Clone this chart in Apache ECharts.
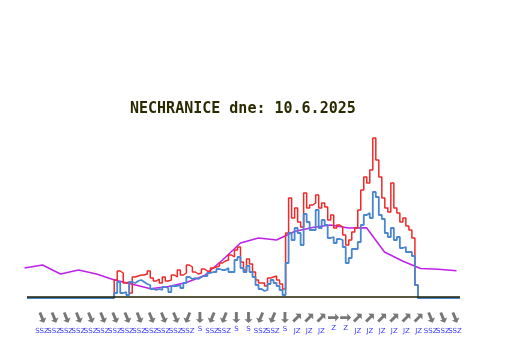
<!DOCTYPE html>
<html><head><meta charset="utf-8">
<script src="https://cdn.jsdelivr.net/npm/echarts@6/dist/echarts.min.js"></script>
<style>html,body{margin:0;padding:0;background:#fff}#c{width:532px;height:360px}</style>
</head><body><div id="c"></div>
<script>
// 10-minute samples (index 0..144), gusts (red) and mean speed (blue)
const gust = [0,0,0,0,0,0,0,0,0,0,0,0,0,0,0,0,0,0,0,0,0,0,0,0,0,0,0,0,0,
 1.8,2.7,2.5,1.5,1.6,0.5,2.1,2.2,2.3,2.3,2.4,2.7,2.0,1.7,1.9,1.5,2.1,1.7,1.8,2.3,2.1,2.8,2.3,2.5,
 3.3,3.1,2.6,2.4,2.5,2.9,2.7,2.6,3.0,3.1,3.2,3.5,3.7,3.8,4.3,4.1,4.8,5.1,3.6,2.8,3.9,3.4,2.6,1.8,1.5,
 1.5,1.2,2.0,2.1,2.2,1.8,1.4,0.9,
 6.5,10.0,8.0,9.0,7.6,7.1,10.5,9.0,9.3,9.5,10.3,9.0,9.5,9.1,7.8,8.3,7.0,7.3,7.1,6.3,5.3,5.8,6.6,7.0,8.8,
 10.8,12.1,11.5,12.8,16.0,13.8,12.1,10.0,9.0,8.6,11.5,9.0,8.5,7.6,8.0,7.2,6.8,6.0,1.3,
 0,0,0,0,0,0,0,0,0,0,0,0,0,0,0];
const speed = [0,0,0,0,0,0,0,0,0,0,0,0,0,0,0,0,0,0,0,0,0,0,0,0,0,0,0,0,0,
 0.5,1.6,0.5,0.6,0.3,1.6,1.5,1.7,1.8,1.6,1.4,1.3,0.9,0.8,0.9,0.8,1.1,1.0,0.6,1.2,1.2,1.3,1.0,1.5,
 2.1,1.9,2.0,1.9,2.1,2.2,2.2,2.5,2.6,2.6,2.9,2.8,2.8,3.0,2.6,2.6,3.8,4.1,3.0,2.6,3.2,2.6,2.1,1.3,0.9,
 0.7,0.8,1.4,1.8,1.5,1.2,0.8,0.3,
 3.5,6.5,5.8,7.0,6.5,5.3,8.4,7.6,6.8,6.8,8.8,7.0,7.8,7.3,6.0,6.1,5.5,5.9,5.8,5.1,3.5,4.0,4.9,4.9,5.6,
 7.3,8.3,8.5,8.0,10.6,10.1,8.3,7.9,6.5,6.1,7.0,5.8,6.1,5.0,5.1,4.6,4.6,4.2,1.3,
 0,0,0,0,0,0,0,0,0,0,0,0,0,0,0];
// hourly series (magenta), hours 0..24
const hourly = [3.0,3.3,2.4,2.8,2.4,1.8,1.37,0.93,1.15,1.55,2.25,3.8,5.5,6.0,5.8,6.65,7.05,7.3,7.0,7.03,4.6,3.7,2.95,2.87,2.73];
// wind marks: label text and arrow heading (degrees, clockwise from up)
const windLbl = ['SSZ','SSZ','SSZ','SSZ','SSZ','SSZ','SSZ','SSZ','SSZ','SSZ','SSZ','SSZ','SSZ',
 'S','SSZ','SSZ','S','S','SSZ','SSZ','S','JZ','JZ','JZ','Z','Z','JZ','JZ','JZ','JZ','JZ','JZ','SSZ','SSZ','SSZ'];
const windHdg = [157.5,157.5,157.5,157.5,157.5,157.5,157.5,157.5,157.5,157.5,157.5,157.5,202.5,
 180,202.5,202.5,180,180,202.5,202.5,180,45,45,45,90,90,45,45,45,45,45,45,157.5,157.5,157.5];
const title = 'NECHRANICE dne: 10.6.2025';

const arrowPath = 'path://M0,-10 L5,-3 L1.8,-3 L1.8,10 L-1.8,10 L-1.8,-3 L-5,-3 Z';

const chart = echarts.init(document.getElementById('c'), null, {renderer:'canvas'});
const idx = gust.map((_, i) => i);
chart.setOption({
  animation:false,
  backgroundColor:'#ffffff',
  title:{text:title,left:125,top:97,textStyle:{fontFamily:'DejaVu Sans Mono',fontSize:15,fontWeight:'bold',color:'#2a2a00'}},
  grid:[
    {left:27,right:72,top:98,bottom:62},
    {left:24.5,right:75.5,top:98,bottom:62},
    {left:42,right:77,top:308,height:24}
  ],
  xAxis:[
    {type:'value',gridIndex:0,min:0,max:144,show:false},
    {type:'value',gridIndex:1,min:0,max:24,show:false},
    {type:'value',gridIndex:2,min:0,max:windLbl.length-1,show:false}
  ],
  yAxis:[
    {type:'value',gridIndex:0,min:0,max:20,show:false},
    {type:'value',gridIndex:1,min:0,max:20,show:false},
    {type:'value',gridIndex:2,min:0,max:1,show:false}
  ],
  series:[
    {type:'line',xAxisIndex:1,yAxisIndex:1,data:hourly.map((v,h)=>[h,v]),showSymbol:false,clip:false,
     lineStyle:{color:'#c020ee',width:1.5},z:1},
    {type:'line',data:gust.map((v,i)=>[idx[i],v]),step:'end',showSymbol:false,
     lineStyle:{color:'#f02828',width:1.5},z:2},
    {type:'line',data:speed.map((v,i)=>[idx[i],v]),step:'end',showSymbol:false,
     lineStyle:{color:'#4a86d0',width:1.8},z:3,
     markLine:{silent:true,symbol:'none',label:{show:false},lineStyle:{color:'#222200',width:1.5,type:'solid'},
       data:[[{coord:[0,0.12]},{coord:[144,0.12]}]]}},
    {type:'scatter',xAxisIndex:2,yAxisIndex:2,
     data:windLbl.map((d,k)=>({value:[k,0.6],symbolRotate:-windHdg[k],name:d})),
     symbol:arrowPath,symbolSize:[8,11],itemStyle:{color:'#555555'},
     label:{show:true,position:'bottom',distance:3,formatter:p=>p.name,color:'#0000ff',fontSize:7,fontFamily:'DejaVu Sans'}}
  ]
});
</script></body></html>
